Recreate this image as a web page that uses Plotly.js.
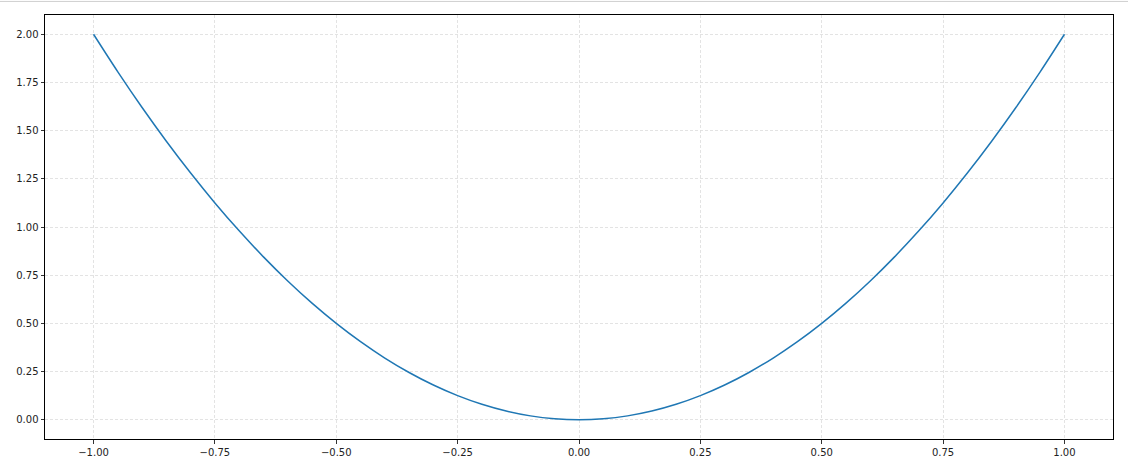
<!DOCTYPE html>
<html>
<head>
<meta charset="utf-8">
<script src="https://cdn.plot.ly/plotly-3.0.1.min.js"></script>
<style>html,body{margin:0;padding:0;background:#fff;}#chart{width:1128px;height:471px;}</style>
</head>
<body>
<div id="chart"></div>
<script>
const xValues = [-1.00,-0.95,-0.90,-0.85,-0.80,-0.75,-0.70,-0.65,-0.60,-0.55,-0.50,-0.45,-0.40,-0.35,-0.30,-0.25,-0.20,-0.15,-0.10,-0.05,0.00,0.05,0.10,0.15,0.20,0.25,0.30,0.35,0.40,0.45,0.50,0.55,0.60,0.65,0.70,0.75,0.80,0.85,0.90,0.95,1.00];
const yValues = [2.000,1.805,1.620,1.445,1.280,1.125,0.980,0.845,0.720,0.605,0.500,0.405,0.320,0.245,0.180,0.125,0.080,0.045,0.020,0.005,0.000,0.005,0.020,0.045,0.080,0.125,0.180,0.245,0.320,0.405,0.500,0.605,0.720,0.845,0.980,1.125,1.280,1.445,1.620,1.805,2.000];
const xTicks = [-1.00,-0.75,-0.50,-0.25,0.00,0.25,0.50,0.75,1.00];
const xTickLabels = ['\u22121.00','\u22120.75','\u22120.50','\u22120.25','0.00','0.25','0.50','0.75','1.00'];
const yTicks = [0.00,0.25,0.50,0.75,1.00,1.25,1.50,1.75,2.00];
const yTickLabels = ['0.00','0.25','0.50','0.75','1.00','1.25','1.50','1.75','2.00'];

const axisCommon = {
  showline: true, linecolor: '#000', linewidth: 1, mirror: true,
  ticks: 'outside', ticklen: 3.5, tickwidth: 0.8, tickcolor: '#000',
  showgrid: true, gridcolor: '#dcdcdc', griddash: '3px,2px', gridwidth: 0.8,
  zeroline: false,
  tickfont: {family: 'DejaVu Sans', size: 10, color: '#222'}
};

Plotly.newPlot('chart', [{
  x: xValues, y: yValues, type: 'scatter', mode: 'lines',
  line: {color: '#1f77b4', width: 1.5, shape: 'spline'}
}], {
  width: 1128, height: 471,
  margin: {l: 45, r: 15, t: 15, b: 32},
  paper_bgcolor: '#fff', plot_bgcolor: '#fff',
  showlegend: false,
  xaxis: Object.assign({}, axisCommon, {range: [-1.1, 1.1], tickvals: xTicks, ticktext: xTickLabels}),
  yaxis: Object.assign({}, axisCommon, {range: [-0.1, 2.1], tickvals: yTicks, ticktext: yTickLabels}),
  shapes: [{type: 'line', xref: 'paper', yref: 'paper', x0: -0.05, x1: 1.02, y0: 1.032, y1: 1.032,
    line: {color: '#cfcfcf', width: 1}}]
}, {staticPlot: true});
</script>
</body>
</html>
